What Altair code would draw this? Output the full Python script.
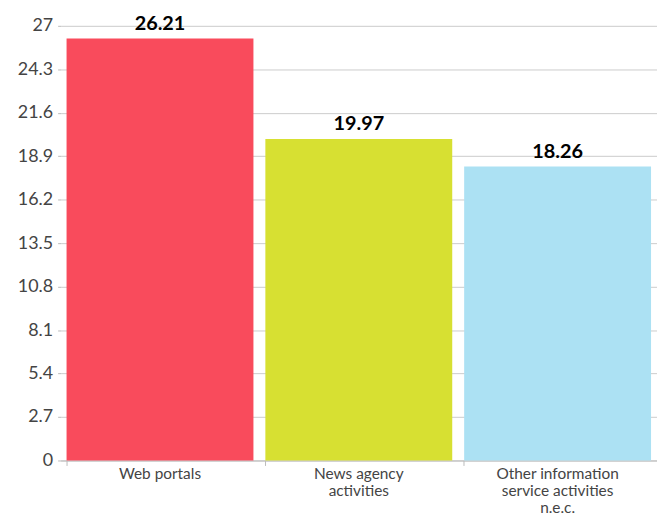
import altair as alt
import pandas as pd

categories = ["Web portals", "News agency activities", "Other information service activities n.e.c."]
values = [26.21, 19.97, 18.26]
colors = ["#F94B5C", "#D7E032", "#ACE1F3"]
y_ticks = [0, 2.7, 5.4, 8.1, 10.8, 13.5, 16.2, 18.9, 21.6, 24.3, 27]

df = pd.DataFrame({"cat": categories, "value": values, "label": [f"{v:.2f}" for v in values]})

label_expr = ("datum.value == '" + categories[0] + "' ? ['Web portals'] : datum.value == '"
              + categories[1] + "' ? ['News agency', 'activities'] : "
              "['Other information', 'service activities', 'n.e.c.']")

x = alt.X("cat:N", sort=categories, title=None,
          scale=alt.Scale(paddingInner=0.06, paddingOuter=0.03),
          axis=alt.Axis(labelAngle=0, labelFont="Lato", labelFontSize=15.5, labelColor="#444",
                        labelExpr=label_expr, bandPosition=0, domainColor="#bbb", tickColor="#bbb",
                        tickSize=5, labelPadding=1, labelLineHeight=17, labelBaseline="top"))
y = alt.Y("value:Q", title=None,
          scale=alt.Scale(domain=[0, 27], nice=False),
          axis=alt.Axis(values=y_ticks, format=".1~f", labelFont="Lato", labelFontSize=18,
                        labelColor="#444", gridColor="#cccccc", domain=False, tickColor="#bbb",
                        tickSize=3, labelPadding=5, labelFlush=False))

bars = alt.Chart(df).mark_bar().encode(
    x=x, y=y,
    color=alt.Color("cat:N", scale=alt.Scale(domain=categories, range=colors), legend=None),
)
text = alt.Chart(df).mark_text(dy=-15, font="Lato", fontSize=20, fontWeight="bold", color="#000").encode(
    x=alt.X("cat:N", sort=categories), y="value:Q", text="label:N"
)

chart = (bars + text).properties(
    width=601, height=438,
    autosize=alt.AutoSizeParams(type="none"),
    padding={"left": 53, "top": 16, "right": 0, "bottom": 55},
).configure_view(stroke=None)

chart.save("out.html", embed_options={"renderer": "svg", "actions": False})
